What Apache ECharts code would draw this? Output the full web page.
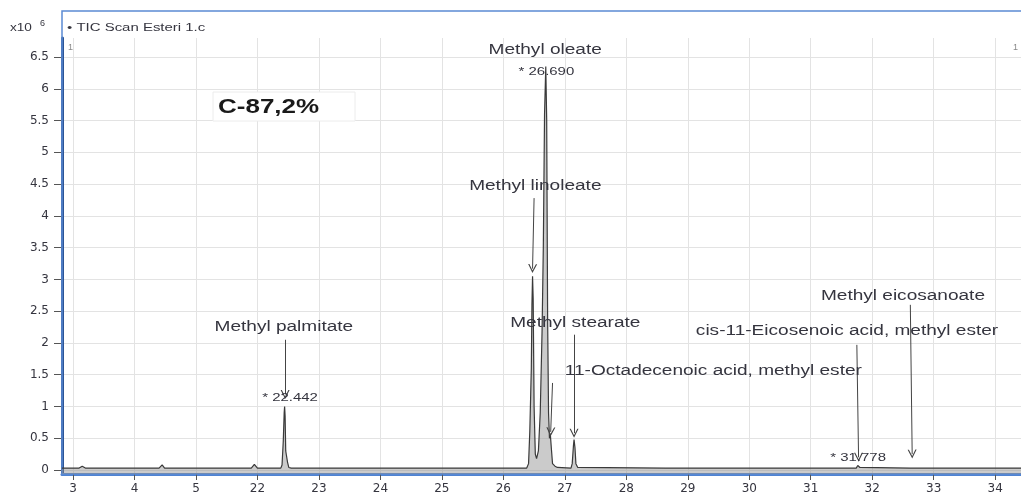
<!DOCTYPE html>
<html>
<head>
<meta charset="utf-8">
<title>TIC Scan Esteri</title>
<script src="https://cdn.jsdelivr.net/npm/echarts@6/dist/echarts.min.js"></script>
<style>
  html, body { margin: 0; padding: 0; background: #ffffff; }
  #chart { width: 1021px; height: 495px; }
</style>
</head>
<body>
<div id="chart"></div>
<script>
// Total ion chromatogram: retention time (min) and abundance (x10^6 counts)
const retentionTime = [
  18.82, 19.10, 19.15, 19.20, 20.40, 20.45, 20.49, 21.90, 21.95, 22.00,
  22.38, 22.40, 22.42, 22.435, 22.442, 22.45, 22.46, 22.47, 22.48, 22.49, 22.51, 22.55,
  26.38, 26.41, 26.43, 26.445, 26.455, 26.465, 26.475, 26.485, 26.50, 26.52, 26.54,
  26.57, 26.60, 26.63, 26.65, 26.67, 26.69, 26.705, 26.72, 26.735, 26.75, 26.765, 26.78, 26.80, 26.84, 26.88,
  27.10, 27.12, 27.14, 27.15, 27.165, 27.18, 27.21,
  28.63, 28.65, 28.67,
  31.74, 31.765, 31.778, 31.80, 31.83,
  32.62, 32.65, 32.68,
  34.42
];
const abundance = [
  0.03, 0.03, 0.06, 0.03, 0.03, 0.08, 0.03, 0.03, 0.09, 0.03,
  0.03, 0.08, 0.45, 0.90, 1.00, 0.85, 0.30, 0.24, 0.26, 0.12, 0.04, 0.03,
  0.03, 0.10, 0.60, 1.20, 1.60, 2.60, 3.05, 2.70, 1.00, 0.25, 0.18,
  0.30, 0.90, 2.20, 3.50, 5.60, 6.35, 5.50, 2.40, 0.90, 0.50, 0.55, 0.35, 0.10, 0.06, 0.04,
  0.03, 0.10, 0.38, 0.48, 0.35, 0.10, 0.04,
  0.03, 0.05, 0.03,
  0.03, 0.07, 0.08, 0.04, 0.03,
  0.03, 0.06, 0.03,
  0.03
];

// Axis ticks
const xTickValues = [19, 20, 21, 22, 23, 24, 25, 26, 27, 28, 29, 30, 31, 32, 33, 34];
const xTickLabels = ['3', '4', '5', '22', '23', '24', '25', '26', '27', '28', '29', '30', '31', '32', '33', '34'];
const yTickValues = [0, 0.5, 1, 1.5, 2, 2.5, 3, 3.5, 4, 4.5, 5, 5.5, 6, 6.5];

// Identified compounds and their retention times
const compoundNames = [
  'Methyl palmitate', 'Methyl linoleate', 'Methyl oleate',
  '11-Octadecenoic acid, methyl ester', 'Methyl stearate',
  'cis-11-Eicosenoic acid, methyl ester', 'Methyl eicosanoate'
];
const compoundTimes = [22.442, 26.475, 26.690, 26.765, 27.15, 31.778, 32.65];
// Retention times printed next to their peaks
const markedTimes = [22.442, 26.690, 31.778];

const textColor = '#35353f';
const fontFamily = '"Liberation Sans", Arial, sans-serif';
const tickFont = '"DejaVu Sans", sans-serif';
const stretch = 1.36; // the report font is set wide

// Where each compound name sits and where its arrow runs (data coordinates)
const nameLayout = [
  { text: [22.43, 2.25], arrow: [[22.45, 2.05], [22.45, 1.19]] },
  { text: [26.52, 4.47], arrow: [[26.50, 4.28], [26.475, 3.17]] },
  { text: [26.68, 6.61], arrow: null },
  { text: [27.00, 1.56], align: 'left', arrow: [[26.80, 1.37], [26.77, 0.60]] },
  { text: [27.17, 2.31], arrow: [[27.15, 2.13], [27.15, 0.58]] },
  { text: [31.59, 2.19], arrow: [[31.75, 1.97], [31.778, 0.20]] },
  { text: [32.50, 2.74], arrow: [[32.62, 2.60], [32.65, 0.25]] }
];
const timeLayout = [[22.53, 1.13], [26.70, 6.27], [31.77, 0.19]];

const trace = retentionTime.map((t, i) => [t, abundance[i]]);

const arrowLines = [];
nameLayout.forEach(lay => {
  if (lay.arrow) arrowLines.push([{ coord: lay.arrow[0] }, { coord: lay.arrow[1] }]);
});

// open "V" arrow head, pointing along the line
const chevron = 'path://M0,10 L5,0 L10,10 L8.6,10 L5,2.8 L1.4,10 Z';

const chart = echarts.init(document.getElementById('chart'), null, { renderer: 'canvas' });

chart.setOption({
  animation: false,
  backgroundColor: '#ffffff',
  grid: { left: 62, right: 0, top: 38, bottom: 21, containLabel: false },
  xAxis: {
    type: 'value',
    min: 18.821,
    max: 34.42,
    axisLine: { show: true, onZero: false, lineStyle: { color: '#4f83d2', width: 3 } },
    axisTick: { show: true, customValues: xTickValues, length: 6, lineStyle: { color: '#555', width: 1 } },
    axisLabel: {
      customValues: xTickValues,
      formatter: v => xTickLabels[xTickValues.indexOf(Math.round(v))] || '',
      color: textColor, fontSize: 12, fontFamily: tickFont, margin: 9
    },
    splitLine: { show: true, lineStyle: { color: '#e3e3e3', width: 1 } }
  },
  yAxis: {
    type: 'value',
    min: -0.063,
    max: 6.8,
    axisLine: { show: true, onZero: false, lineStyle: { color: '#2c5596', width: 3 } },
    axisTick: { show: true, customValues: yTickValues, length: 8, lineStyle: { color: '#555', width: 1 } },
    axisLabel: {
      customValues: yTickValues,
      formatter: v => String(v),
      color: textColor, fontSize: 12, fontFamily: tickFont, margin: 13
    },
    splitLine: { show: true, lineStyle: { color: '#e3e3e3', width: 1 } }
  },
  series: [{
    type: 'line',
    data: trace,
    showSymbol: false,
    symbol: 'none',
    sampling: null,
    lineStyle: { color: '#3a3a3a', width: 1.2 },
    areaStyle: { color: 'rgba(140,140,140,0.65)', origin: 'start' },
    z: 3,
    markLine: {
      silent: true,
      symbol: ['none', chevron],
      symbolSize: 9,
      label: { show: false },
      lineStyle: { color: '#444', width: 1, type: 'solid' },
      data: arrowLines
    }
  }]
});

// Fixed decorations of the report panel
const graphics = [
  { type: 'rect', shape: { x: 62, y: 11, width: 970, height: 463 }, style: { fill: 'none', stroke: '#5b8ad4', lineWidth: 1.5 }, silent: true, z: 1 },
  { type: 'text', x: 10, y: 28, scaleX: stretch, style: { text: 'x10', fill: textColor, font: '10px ' + fontFamily, verticalAlign: 'middle' } },
  { type: 'text', x: 40, y: 24, style: { text: '6', fill: textColor, font: '9px ' + fontFamily, verticalAlign: 'middle' } },
  { type: 'text', x: 67, y: 28, scaleX: stretch, style: { text: '• TIC Scan Esteri 1.c', fill: textColor, font: '11px ' + fontFamily, verticalAlign: 'middle' } },
  { type: 'text', x: 68, y: 48, style: { text: '1', fill: '#888', font: '9px ' + fontFamily, verticalAlign: 'middle' } },
  { type: 'text', x: 1013, y: 48, style: { text: '1', fill: '#888', font: '9px ' + fontFamily, verticalAlign: 'middle' } },
  { type: 'rect', shape: { x: 213, y: 92, width: 142, height: 29 }, style: { fill: '#ffffff', stroke: '#ececec', lineWidth: 1 }, z: 5 },
  { type: 'text', x: 218, y: 107, scaleX: 1.3, z: 6, style: { text: 'C-87,2%', fill: '#1a1a1a', font: 'bold 20px ' + fontFamily, verticalAlign: 'middle' } }
];

// Compound names and retention times, placed through the axis scales
compoundNames.forEach((name, i) => {
  const lay = nameLayout[i];
  const p = chart.convertToPixel({ gridIndex: 0 }, lay.text);
  graphics.push({
    type: 'text', x: p[0], y: p[1], scaleX: stretch, z: 10,
    style: { text: name, fill: textColor, font: '14px ' + fontFamily, align: lay.align || 'center', verticalAlign: 'middle' }
  });
});
markedTimes.forEach((t, i) => {
  const p = chart.convertToPixel({ gridIndex: 0 }, timeLayout[i]);
  graphics.push({
    type: 'text', x: p[0], y: p[1], scaleX: stretch, z: 10,
    style: { text: '* ' + t.toFixed(3), fill: textColor, font: '11px ' + fontFamily, align: 'center', verticalAlign: 'middle' }
  });
});

chart.setOption({ graphic: graphics });
</script>
</body>
</html>
